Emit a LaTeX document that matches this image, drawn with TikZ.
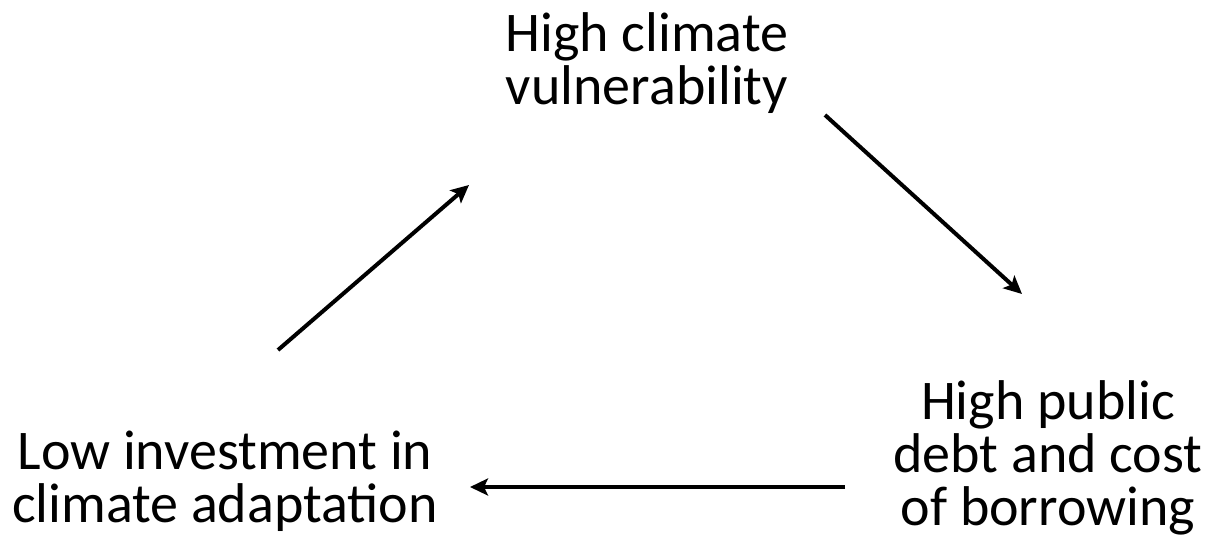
\documentclass[tikz,border=0pt]{standalone}
\usepackage{fontspec}
\setmainfont{Carlito}
\usetikzlibrary{arrows.meta}
\begin{document}
\begin{tikzpicture}[
    x=1pt, y=-1pt,
    label/.style={align=center, inner sep=0pt, font=\fontsize{56}{53}\selectfont},
    arrow/.style={-{Stealth[length=18pt,width=17pt,inset=4pt]}, line width=4pt},
]
    \useasboundingbox (0,0) rectangle (1210,544);

    % Stages of the cycle
    \node[label] (vuln) at (647, 63) {High climate\\vulnerability};
    \node[label] (debt) at (1048, 458) {High public\\debt and cost\\of borrowing};
    \node[label] (invest) at (225, 481) {Low investment in\\climate adaptation};

    % Arrow ends
    \coordinate (invest-out) at (278, 350);
    \coordinate (vuln-in) at (469, 185);
    \coordinate (vuln-out) at (825, 115);
    \coordinate (debt-in) at (1022, 294);
    \coordinate (debt-out) at (845, 487);
    \coordinate (invest-in) at (470, 487);

    % Relationships
    \draw[arrow] (invest-out) -- (vuln-in);
    \draw[arrow] (vuln-out) -- (debt-in);
    \draw[arrow] (debt-out) -- (invest-in);
\end{tikzpicture}
\end{document}
